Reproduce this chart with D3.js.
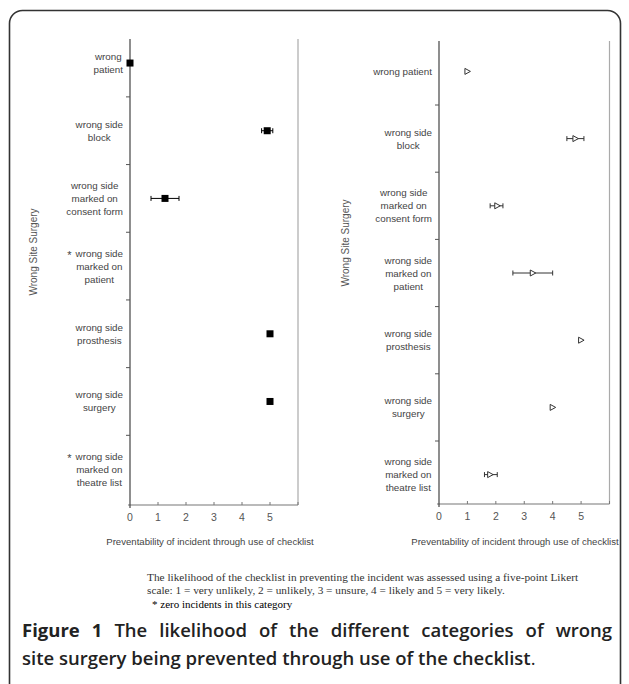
<!DOCTYPE html>
<html><head><meta charset="utf-8">
<script src="https://cdn.jsdelivr.net/npm/d3@7"></script>
<style>
html,body{margin:0;padding:0;background:#fff;}
svg{display:block;}
</style></head>
<body>
<svg id="chart" width="629" height="684"></svg>
<script>
// ---------- data ----------
const categories = ["wrong patient","wrong side block","wrong side marked on consent form","wrong side marked on patient","wrong side prosthesis","wrong side surgery","wrong side marked on theatre list"];
const leftLabels = [["wrong","patient"],["wrong side","block"],["wrong side","marked on","consent form"],["wrong side","marked on","patient"],["wrong side","prosthesis"],["wrong side","surgery"],["wrong side","marked on","theatre list"]];
const leftStars = [false,false,false,true,false,false,true];
const rightLabels = [["wrong patient"],["wrong side","block"],["wrong side","marked on","consent form"],["wrong side","marked on","patient"],["wrong side","prosthesis"],["wrong side","surgery"],["wrong side","marked on","theatre list"]];
const leftValues = [0, 4.9, 1.25, null, 5, 5, null];
const leftLow    = [null, 4.7, 0.75, null, null, null, null];
const leftHigh   = [null, 5.1, 1.75, null, null, null, null];
const rightValues = [1, 4.8, 2.05, 3.3, 5, 4, 1.8];
const rightLow    = [null, 4.5, 1.8, 2.6, null, null, 1.6];
const rightHigh   = [null, 5.1, 2.25, 4.0, null, null, 2.05];
const xTicks = [0,1,2,3,4,5];
const yTitle = "Wrong Site Surgery";
const xTitle = "Preventability of incident through use of checklist";
const noteLines = ["The likelihood of the checklist in preventing the incident was assessed using a five-point Likert",
                   "scale: 1 = very unlikely, 2 = unlikely, 3 = unsure, 4 = likely and 5 = very likely."];
const noteStar = "* zero incidents in this category";
const captionLine1 = [["Figure",700],["1",700],["The",600],["likelihood",600],["of",600],["the",600],["different",600],["categories",600],["of",600],["wrong",600]];
const captionLine2 = "site surgery being prevented through use of the checklist";

// ---------- drawing ----------
const svg = d3.select("#chart");
const SANS = "Liberation Sans, Arial, sans-serif";

// frame
svg.append("rect").attr("x",9.5).attr("y",10.5).attr("width",611).attr("height",700)
  .attr("rx",13).attr("fill","none").attr("stroke","#333").attr("stroke-width",1.6);

function panel(cfg){
  const g = svg.append("g");
  const x = d3.scaleLinear().domain([0,6]).range([cfg.x0, cfg.x6]);
  const y = d3.scaleBand().domain(categories).range([cfg.bandTop, cfg.bandBottom]).padding(0);

  g.append("line").attr("x1",x(6)).attr("x2",x(6)).attr("y1",cfg.axisTop).attr("y2",cfg.axisY)
    .attr("stroke","#aaa").attr("stroke-width",1.2);
  g.append("line").attr("x1",x(0)-2).attr("x2",x(6)).attr("y1",cfg.axisY).attr("y2",cfg.axisY)
    .attr("stroke","#777").attr("stroke-width",1.2);
  g.append("line").attr("x1",x(0)).attr("x2",x(0)).attr("y1",cfg.axisTop).attr("y2",cfg.axisY+3)
    .attr("stroke","#444").attr("stroke-width",1.2);
  g.selectAll(".yt").data(categories.slice(1)).join("line")
    .attr("x1",x(0)-4).attr("x2",x(0))
    .attr("y1",d=>y(d)).attr("y2",d=>y(d))
    .attr("stroke","#555").attr("stroke-width",1);
  g.selectAll(".xt").data([1,2,3,4,5,6]).join("line")
    .attr("x1",d=>x(d)).attr("x2",d=>x(d)).attr("y1",cfg.axisY-3).attr("y2",cfg.axisY)
    .attr("stroke","#777").attr("stroke-width",1);
  g.selectAll(".xl").data(xTicks).join("text")
    .attr("x",d=>x(d)).attr("y",cfg.axisY+16)
    .attr("text-anchor","middle").attr("font-family",SANS).attr("font-size",10.5)
    .attr("fill","#555").text(d=>d);
  g.append("text").attr("x",cfg.xTitleX).attr("y",545)
    .attr("text-anchor","middle").attr("font-family",SANS).attr("font-size",9.6)
    .attr("fill","#444").text(xTitle);
  g.append("text").attr("transform",`translate(${cfg.yTitleX},${cfg.yTitleY}) rotate(-90)`)
    .attr("text-anchor","middle").attr("font-family",SANS).attr("font-size",10)
    .attr("fill","#555").text(yTitle);

  const rightEdge = x(0) - 7;
  const lh = 13;
  cfg.labels.forEach((lines,i)=>{
    const cy = y(categories[i]) + y.bandwidth()/2;
    const lg = g.append("g");
    const texts = lines.map((t,k)=> lg.append("text")
      .attr("y", cy + (k - (lines.length-1)/2)*lh + 3.5)
      .attr("font-family",SANS).attr("font-size",9.8).attr("fill","#444")
      .attr("text-anchor","middle").text(t));
    const widths = texts.map(t=>t.node().getComputedTextLength());
    const maxW = d3.max(widths);
    const cx = rightEdge - maxW/2;
    texts.forEach(t=>t.attr("x",cx));
    if(cfg.stars && cfg.stars[i]){
      lg.append("text").attr("x", cx - widths[0]/2 - 4)
        .attr("y", cy - (lines.length-1)/2*lh + 5.5)
        .attr("text-anchor","end").attr("font-family",SANS).attr("font-size",11)
        .attr("fill","#444").text("*");
    }
  });

  const eb = categories.map((c,i)=>({c, lo:cfg.low[i], hi:cfg.high[i]})).filter(d=>d.lo!=null);
  const cyOf = c => y(c) + y.bandwidth()/2;
  g.selectAll(".eb").data(eb).join("line")
    .attr("x1",d=>x(d.lo)).attr("x2",d=>x(d.hi)).attr("y1",d=>cyOf(d.c)).attr("y2",d=>cyOf(d.c))
    .attr("stroke",cfg.barColor).attr("stroke-width",1);
  ["lo","hi"].forEach(k=>{
    g.selectAll(".cap"+k).data(eb).join("line")
      .attr("x1",d=>x(d[k])).attr("x2",d=>x(d[k])).attr("y1",d=>cyOf(d.c)-2.5).attr("y2",d=>cyOf(d.c)+2.5)
      .attr("stroke",cfg.barColor).attr("stroke-width",1);
  });
  const pts = categories.map((c,i)=>({c, v:cfg.values[i]})).filter(d=>d.v!=null);
  if(cfg.marker==="square"){
    g.selectAll(".pt").data(pts).join("rect")
      .attr("x",d=>x(d.v)-3.5).attr("y",d=>cyOf(d.c)-3.5).attr("width",7).attr("height",7)
      .attr("fill","#000");
  } else {
    g.selectAll(".pt").data(pts).join("path")
      .attr("d",d=>{const px=x(d.v), py=cyOf(d.c); return `M${px-2.5},${py-3}L${px+3},${py}L${px-2.5},${py+3}Z`;})
      .attr("fill","#fff").attr("stroke","#333").attr("stroke-width",1);
  }
}

panel({x0:130, x6:298, bandTop:29.2, bandBottom:503, axisTop:39, axisY:505,
  labels:leftLabels, stars:leftStars, values:leftValues, low:leftLow, high:leftHigh,
  marker:"square", barColor:"#000", xTitleX:210, yTitleX:37, yTitleY:252});
panel({x0:439, x6:609.5, bandTop:37.8, bandBottom:508.2, axisTop:41, axisY:504,
  labels:rightLabels, stars:null, values:rightValues, low:rightLow, high:rightHigh,
  marker:"tri", barColor:"#333", xTitleX:515, yTitleX:349, yTitleY:243});

// footnote
const SERIF = "Liberation Serif, Times New Roman, serif";
noteLines.forEach((t,i)=>{
  svg.append("text").attr("x",147).attr("y",581 + i*12.5)
    .attr("font-family",SERIF).attr("font-size",11.3).attr("fill","#333").text(t);
});
svg.append("text").attr("x",152).attr("y",608)
  .attr("font-family",SERIF).attr("font-size",11).attr("fill","#000").text(noteStar);

// caption
const CAP = "Open Sans, Noto Sans, sans-serif";
const capSize = 18.5;
const l1 = captionLine1.map(([w,wt])=> svg.append("text").attr("y",637)
  .attr("font-family",CAP).attr("font-size",capSize).attr("font-weight",wt).attr("fill","#222").text(w));
const ws = l1.map(t=>t.node().getComputedTextLength());
const total = d3.sum(ws);
const gap = (612 - 22 - total)/(ws.length-1);
let cx = 22;
l1.forEach((t,i)=>{ t.attr("x",cx); cx += ws[i] + gap; });
const l2 = svg.append("text").attr("x",22).attr("y",665)
  .attr("font-family",CAP).attr("font-size",capSize).attr("fill","#222");
l2.append("tspan").attr("font-weight",600).text(captionLine2);
l2.append("tspan").attr("font-weight",400).text(".");
</script>
</body></html>
